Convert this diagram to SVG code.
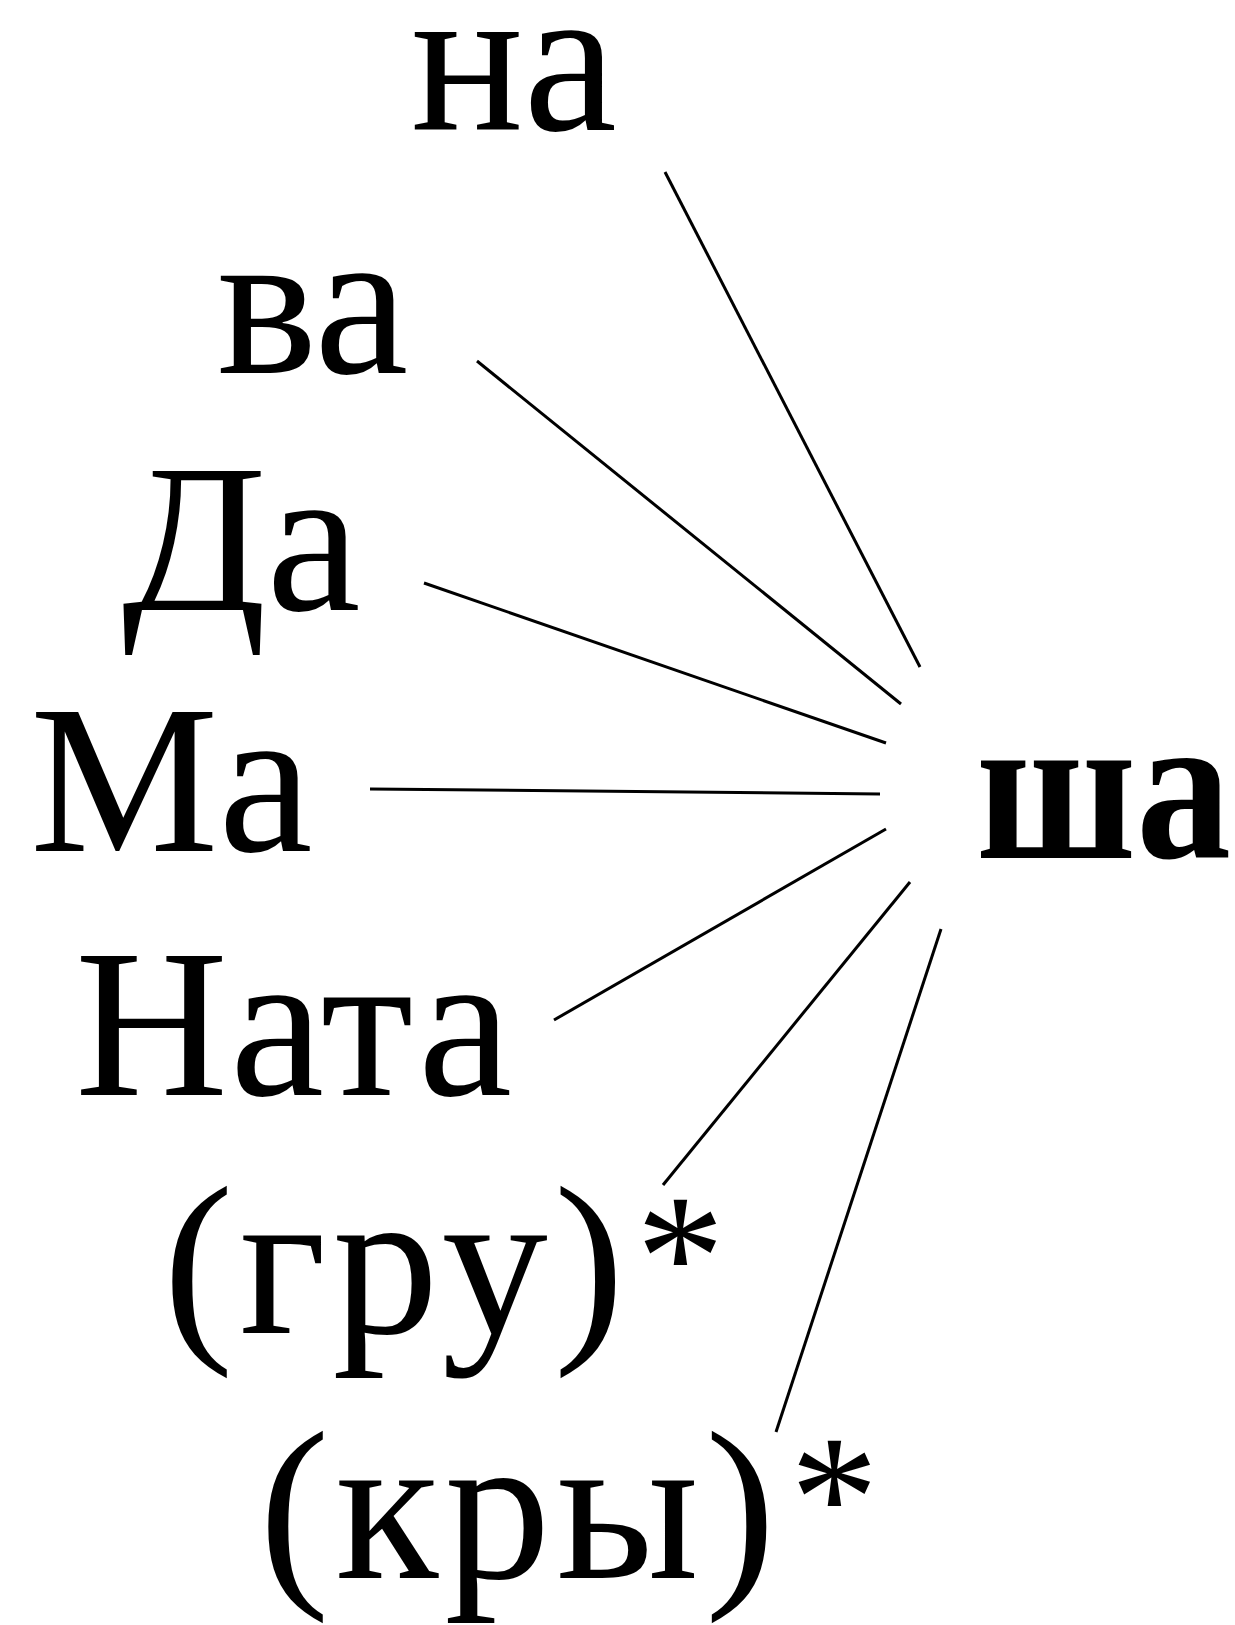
<svg xmlns="http://www.w3.org/2000/svg" width="1235" height="1625" viewBox="0 0 1235 1625">
<style>
.t{font-family:"Liberation Serif","Times New Roman",serif;font-size:212px;fill:#000}
.b{font-weight:bold}
.s{font-size:177px}
.w{letter-spacing:6px}
.c line{stroke:#000;stroke-width:3;stroke-linecap:butt}
</style>
<rect width="1235" height="1625" fill="#fff"/>
<g class="c" id="connectors">
<line x1="665" y1="172" x2="920" y2="667"/>
<line x1="477" y1="361" x2="901" y2="704"/>
<line x1="424" y1="583" x2="886" y2="743"/>
<line x1="370" y1="789" x2="880" y2="794"/>
<line x1="554" y1="1020" x2="886" y2="829"/>
<line x1="663" y1="1185" x2="910" y2="882"/>
<line x1="776" y1="1432" x2="941" y2="929"/>
</g>
<g id="n-na"><text class="t" x="411" y="130" font-size="200" textLength="206" lengthAdjust="spacingAndGlyphs">на</text></g>
<g id="n-va"><text class="t" x="217" y="373">ва</text></g>
<g id="n-da"><text class="t" x="122" y="610">Да</text></g>
<g id="n-ma"><text class="t" x="30" y="851">Ма</text></g>
<g id="n-nata"><text class="t" x="75" y="1095" letter-spacing="2">Ната</text></g>
<g id="n-gru"><text class="t" x="163" y="1333"><tspan class="w">(гру)</tspan><tspan class="s" x="636" y="1316">*</tspan></text></g>
<g id="n-kry"><text class="t" x="259" y="1578"><tspan class="w">(кры)</tspan><tspan class="s" x="790" y="1557">*</tspan></text></g>
<g id="n-sha"><text class="t b" x="976" y="858" textLength="255" lengthAdjust="spacingAndGlyphs">ша</text></g>
</svg>
